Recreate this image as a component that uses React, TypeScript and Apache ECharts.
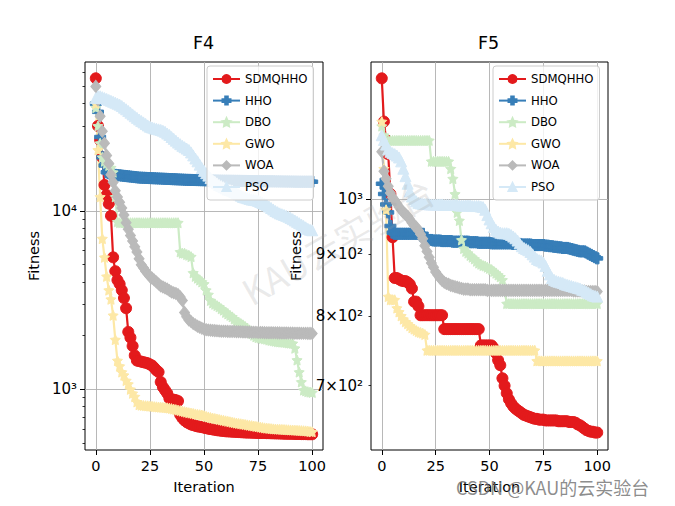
import React, { useEffect, useRef } from 'react';
import * as echarts from 'echarts';

// ---------- data ----------
const ITERATIONS = Array.from({ length: 101 }, (_, i) => i);
const SERIES_NAMES = ['SDMQHHO', 'HHO', 'DBO', 'GWO', 'WOA', 'PSO'];

const F4_SDMQHHO = [
  55500, 30000, 25000, 20000, 14000, 12300, 11000, 9400, 5500, 4600,
  4100, 3900, 3600, 3250, 2850, 2100, 1950, 1750, 1550, 1450,
  1440, 1430, 1420, 1410, 1400, 1380, 1360, 1320, 1280, 1250,
  1100, 1030, 990, 950, 890, 880, 875, 870, 860, 720,
  690, 670, 655, 645, 636, 630, 625, 620, 617, 614,
  610, 606, 602, 599, 596, 593, 590, 588, 586, 584,
  582, 581, 580, 579, 578, 577, 576, 575, 574, 573,
  572, 572, 571, 571, 570, 570, 569, 569, 569, 568,
  568, 567, 567, 566, 566, 565, 565, 564, 564, 563,
  563, 563, 562, 562, 562, 561, 561, 561, 560, 560, 560,
];
const F4_HHO = [
  40000, 36000, 26000, 20000, 18000, 16500, 16300, 16100, 16000,
  15950, 15900, 15850, 15800, 15750, 15700, 15650, 15600, 15550, 15500, 15450, 15400,
  15380, 15360, 15340, 15320, 15300, 15280, 15260, 15240, 15220, 15200, 15180, 15160, 15140, 15120, 15100,
  15080, 15060, 15040, 15020, 15000, 14980, 14960, 14950, 14940, 14930, 14920, 14910, 14900, 14890, 14880,
  14870, 14860, 14850, 14840, 14830, 14820, 14810, 14800, 14795, 14790, 14785, 14780, 14775, 14770, 14765,
  14760, 14755, 14750, 14745, 14740, 14730, 14720, 14715, 14710, 14700,
  14695, 14690, 14685, 14680, 14675, 14670, 14665, 14660, 14655, 14650, 14645, 14640, 14635,
  14630, 14625, 14620, 14615, 14610, 14605, 14600, 14600, 14600, 14600, 14600, 14600,
];
const F4_DBO = [
  38000, 30000, 24000, 20000, 19000, 18500, 18000, 17500, 16500, 12000, 8700,
  8600, 8600, 8600, 8600, 8600, 8600, 8600, 8600, 8600, 8600, 8600, 8600, 8600, 8600,
  8600, 8600, 8600, 8600, 8600, 8600, 8600, 8600, 8600, 8600, 8600, 8600, 8600, 8600,
  5900, 5800, 5800, 5700, 5650, 5550,
  4500, 4300, 4200, 4100, 4000, 3900,
  3600, 3400, 3150, 3050, 3000, 2950, 2900, 2830, 2780, 2700,
  2650, 2600, 2550, 2480, 2420, 2380, 2340, 2300, 2250, 2200,
  2120, 2060, 2010, 1970, 1950, 1940, 1930, 1920, 1910, 1890,
  1880, 1870, 1860, 1850, 1845, 1840, 1835, 1830, 1820, 1815, 1810,
  1700, 1460, 1250, 1100, 990, 980, 970, 965, 960,
];
const F4_GWO = [
  40000, 22000, 12000, 7000, 5500, 4300, 3600, 3200, 2600, 1900,
  1450, 1350, 1250, 1200, 1120, 1070, 1000, 950, 910, 850, 820,
  815, 812, 810, 808, 805, 803, 800, 798, 796, 794, 792, 790,
  788, 785, 780, 775, 770, 765, 760, 755, 750, 745, 740, 736, 732, 728, 724, 721, 718,
  712, 705, 700, 695, 690, 686, 682, 678, 674, 670, 666, 662, 658, 654, 650,
  647, 644, 641, 638, 635, 632, 629, 626, 623, 620, 617, 614, 611, 608, 606,
  604, 602, 600, 599, 598, 597, 596, 595, 594, 593, 592, 591, 590, 589, 588,
  587, 586, 585, 583, 580, 578,
];
const F4_WOA = [
  50000, 42000, 34000, 28000, 24000, 20500, 18500, 16000, 14500, 13000,
  12000, 11200, 10400, 9500, 8600, 7900, 7300, 6800, 6300, 5900,
  5400, 5000, 4800, 4600, 4450, 4300, 4200, 4100, 4000, 3900,
  3800, 3750, 3700, 3650, 3580, 3520, 3480, 3450, 3400, 3300,
  3150, 2700, 2550, 2450, 2400, 2340, 2300, 2260, 2230, 2200,
  2180, 2160, 2150,
  2145, 2140, 2135, 2130, 2125, 2120,
  2118, 2116, 2114, 2112, 2110, 2108, 2106, 2104, 2102, 2100,
  2098, 2096, 2094, 2092, 2090, 2088, 2086, 2084, 2082, 2080,
  2079, 2078, 2077, 2076, 2075, 2074, 2073, 2072, 2071, 2070,
  2069, 2068, 2067, 2066, 2065, 2064, 2063, 2062, 2061, 2060, 2060, 2060,
];
const F4_PSO = [
  43000, 44000, 44000, 43500, 43000, 42500, 42000, 41500, 41000, 40500,
  40000, 39500, 38800, 38000, 37200, 36400, 35600, 34800, 34000, 33300,
  32600, 32000, 31400, 30800, 30200, 29700, 29400, 29100, 28900, 28700,
  28500, 28200, 27800, 27200, 26700, 26000, 25400, 24800, 24200, 23700,
  23200, 22800, 22400, 22000, 21300, 20500, 19700, 19000, 18200, 17400,
  16800, 16300, 15800, 15300, 14900, 14600, 14300, 14000, 13800, 13600,
  13400, 13200, 13100, 13000, 12800, 12600, 12400, 12200, 12000, 11900,
  11800, 11700, 11600, 11550, 11500, 11400, 11250, 11100, 10950, 10800,
  10600, 10400, 10200, 10000, 9850, 9700, 9600, 9500, 9400, 9290,
  9150, 9000, 8850, 8700, 8550, 8400, 8250, 8100, 7950, 7850, 7800,
];

const F5_SDMQHHO = [
  1260, 1160, 1120, 1090, 1010, 930, 860, 860, 858, 856,
  855, 855, 853, 850, 843, 822, 822, 815, 801,
  801, 801, 801, 801, 801, 801, 801, 801, 801, 801,
  780, 780, 780, 780, 780, 780, 780, 780, 780, 780, 780, 780, 780, 780, 780, 780, 780,
  756, 756, 756, 756, 756, 756,
  752, 745, 735, 728, 710, 700, 690, 682, 677, 673,
  670, 668, 666, 664, 662, 661, 660, 659, 658,
  657, 657, 656, 656, 656, 655, 655, 655, 655, 655, 655,
  654, 654, 654, 654, 654, 653, 653, 653, 652,
  650, 649, 647, 645, 643, 642, 641, 641, 640, 640,
];
const F5_HHO = [
  1030, 1010, 990, 975, 950, 938,
  936, 936, 936, 936, 936, 936, 936, 936, 936, 936, 936, 936, 936, 936,
  926, 925, 925, 925, 924, 924, 924, 924, 923, 923, 923, 923, 923, 922, 922, 922, 922, 922, 922, 922, 922,
  921, 921, 921, 921, 920, 920, 920, 920, 920, 920, 919, 919, 919, 919, 919, 919, 919, 919, 919, 919,
  918, 918, 918, 918, 917, 917, 917, 917, 917, 916, 916, 916, 916, 916, 916,
  915, 915, 914, 914, 913, 913, 912, 912, 911, 911, 911,
  910, 909, 908, 907, 906, 905, 905, 905,
  903, 901, 899, 897, 895, 893,
];
const F5_DBO = [
  1150, 1130,
  1119, 1119, 1119, 1119, 1119, 1119, 1119, 1119, 1119, 1119, 1119,
  1119, 1119, 1119, 1119, 1119, 1119, 1119, 1119, 1119, 1119,
  1075, 1075, 1075, 1075, 1075, 1075, 1075, 1075, 1075,
  1060, 1040, 1010, 975, 960, 925, 910, 905, 902, 898,
  895, 892, 888, 885, 883, 881, 880, 878, 876, 874,
  871, 868, 865, 862, 857, 840,
  819, 819, 819, 819, 819, 819, 819, 819, 819, 819, 819, 819, 819, 819, 819,
  819, 819, 819, 819, 819, 819, 819, 819, 819, 819, 819, 819, 819, 819, 819,
  819, 819, 819, 819, 819, 819, 819, 819, 819, 819, 819, 819, 819,
];
const F5_GWO = [
  1160, 1060, 980, 830, 825, 825, 825, 812, 806, 800,
  795, 791, 788, 785, 782, 780, 778, 776, 775, 774, 772,
  749, 749, 749, 749, 749, 749, 749, 749, 749, 749, 749, 749, 749, 749, 749, 749, 749,
  749, 749, 749, 749, 749, 749, 749, 749, 749, 749, 749, 749, 749, 749, 749, 749, 749,
  749, 749, 749, 749, 749, 749, 749, 749, 749, 749, 749, 749, 749, 749, 749, 749, 749,
  734, 734, 734, 734, 734, 734, 734, 734, 734, 734, 734, 734, 734, 734, 734,
  734, 734, 734, 734, 734, 734, 734, 734, 734, 734, 734, 734, 734, 734,
];
const F5_WOA = [
  1095, 1055, 1040, 1025, 1012, 1003, 998, 992, 985, 980,
  975, 972, 968, 962, 956, 951, 948, 942, 935, 927,
  915, 905, 895, 885, 878, 870, 865, 860, 856, 853,
  851, 850, 848, 847, 846, 845, 844, 843, 842,
  842, 842, 841, 841, 841, 841, 841, 841, 841, 841,
  840, 840, 840, 840, 840, 840, 840, 840, 840, 840,
  840, 840, 840, 840, 840, 840, 840, 840, 840, 840,
  840, 840, 840, 840, 840, 840, 840, 840, 840, 840,
  840, 840, 840, 840, 840, 840, 840, 840, 840, 840,
  839, 839, 839, 839, 839, 839, 838, 838, 838, 838, 838, 838,
];
const F5_PSO = [
  1130, 1120, 1110, 1100, 1095, 1092, 1090, 1087, 1083, 1075,
  1060, 1045, 1030, 1015, 1005, 1000, 996, 993, 992,
  991, 991, 991, 990, 990, 990, 990, 990, 990, 990,
  989, 989, 989, 989, 989, 989, 989, 988, 988, 988, 988, 988, 988, 987, 987, 987, 987,
  986, 985, 980, 970, 962, 955, 948, 943, 940, 938,
  937, 937, 937, 936, 934, 931, 928, 924, 919, 914,
  911, 909, 907, 904, 900, 896, 892, 890, 889, 886,
  880, 872, 866, 860, 857, 855, 854, 853, 852, 850,
  849, 848, 847, 846, 845, 844, 843, 841, 840, 838,
  836, 834, 832, 831, 830,
];

const F4_DATA = [F4_SDMQHHO, F4_HHO, F4_DBO, F4_GWO, F4_WOA, F4_PSO];
const F5_DATA = [F5_SDMQHHO, F5_HHO, F5_DBO, F5_GWO, F5_WOA, F5_PSO];

// ---------- axes / ticks ----------
const X_TICKS = [0, 25, 50, 75, 100];
const F4_RANGE = [457, 68500];
const F4_MAJOR_TICKS = [1000, 10000];
const F4_MAJOR_LABELS = ['10³', '10⁴'];
const F4_MINOR_TICKS = [500, 600, 700, 800, 900, 2000, 3000, 4000, 5000, 6000, 7000, 8000, 9000, 20000, 30000, 40000, 50000, 60000];
const F5_RANGE = [619, 1300];
const F5_MAJOR_TICKS = [1000];
const F5_MAJOR_LABELS = ['10³'];
const F5_MINOR_TICKS = [700, 800, 900];
const F5_MINOR_LABELS = ['7×10²', '8×10²', '9×10²'];

// ---------- style ----------
const COLORS = ['#e31a1c', '#377eb8', '#ccebc5', '#fde8a6', '#bababa', '#d5e9f7'];
const PLUS = 'path://M-1.6,-5 L1.6,-5 L1.6,-1.6 L5,-1.6 L5,1.6 L1.6,1.6 L1.6,5 L-1.6,5 L-1.6,1.6 L-5,1.6 L-5,-1.6 L-1.6,-1.6 Z';
const STAR = 'path://M0,-10 L2.9,-4 L9.5,-3.1 L4.7,1.5 L5.9,8.1 L0,5 L-5.9,8.1 L-4.7,1.5 L-9.5,-3.1 L-2.9,-4 Z';
const SYMBOLS = ['circle', PLUS, STAR, STAR, 'diamond', 'triangle'];
const SYMBOL_SIZES = [11, 11, 10, 10, [10, 12], 11];
const FONT = '"DejaVu Sans", sans-serif';

const log10 = (v: number) => Math.log10(v);

function labelFor(ticks: number[], labels: string[]) {
  return (v: number) => {
    const idx = ticks.findIndex((t) => Math.abs(log10(t) - v) < 1e-6);
    return idx >= 0 ? labels[idx] : '';
  };
}

function buildOption() {
  const grids = [
    { left: 85, top: 62, width: 238, height: 388 },
    { left: 371, top: 62, width: 237, height: 388 },
  ];
  const xAxes = grids.map((_, g) => ({
    type: 'value',
    gridIndex: g,
    position: 'bottom',
    min: -5,
    max: 105,
    name: 'Iteration',
    nameLocation: 'middle',
    nameGap: 29,
    nameTextStyle: { fontFamily: FONT, fontSize: 14.5, color: '#000' },
    axisLine: { show: false },
    axisTick: { show: true, length: 5, lineStyle: { color: '#000', width: 1 }, customValues: X_TICKS },
    axisLabel: { fontFamily: FONT, fontSize: 14.5, color: '#000', margin: 8, customValues: X_TICKS },
    splitLine: { show: true, lineStyle: { color: '#b0b0b0', width: 0.9 } },
  }));

  const makeY = (g: number, range: number[], major: number[], majorLabels: string[], minor: number[], minorLabels: string[] | null, nameGap: number, labelSize: number) => [
    { type: 'log', gridIndex: g, position: 'left', min: range[0], max: range[1], show: false },
    {
      type: 'value', gridIndex: g, position: 'left', offset: 0, min: log10(range[0]), max: log10(range[1]),
      name: 'Fitness', nameLocation: 'middle', nameGap,
      nameTextStyle: { fontFamily: FONT, fontSize: 14.5, color: '#000' },
      axisLine: { show: false },
      axisTick: { show: true, length: 5, lineStyle: { color: '#000', width: 1 }, customValues: major.map(log10) },
      axisLabel: { fontFamily: FONT, fontSize: labelSize, color: '#000', margin: 8, customValues: major.map(log10), formatter: labelFor(major, majorLabels) },
      splitLine: { show: true, lineStyle: { color: '#b0b0b0', width: 0.9 } },
    },
    {
      type: 'value', gridIndex: g, position: 'left', offset: 0, min: log10(range[0]), max: log10(range[1]),
      axisLine: { show: false },
      axisTick: { show: true, length: 2.5, lineStyle: { color: '#000', width: 0.8 }, customValues: minor.map(log10) },
      axisLabel: minorLabels
        ? { show: true, fontFamily: FONT, fontSize: labelSize, color: '#000', margin: 8, customValues: minor.map(log10), formatter: labelFor(minor, minorLabels) }
        : { show: false },
      splitLine: { show: false },
    },
  ];
  const yAxes = [
    ...makeY(0, F4_RANGE, F4_MAJOR_TICKS, F4_MAJOR_LABELS, F4_MINOR_TICKS, null, 44, 15),
    ...makeY(1, F5_RANGE, F5_MAJOR_TICKS, F5_MAJOR_LABELS, F5_MINOR_TICKS, F5_MINOR_LABELS, 68, 15),
  ];

  const series: any[] = [];
  [F4_DATA, F5_DATA].forEach((dataset, g) => {
    dataset.forEach((vals, k) => {
      series.push({
        type: 'line',
        name: SERIES_NAMES[k],
        xAxisIndex: g,
        yAxisIndex: g * 3,
        data: ITERATIONS.map((x, i) => [x, vals[i]]),
        symbol: SYMBOLS[k],
        symbolSize: SYMBOL_SIZES[k],
        showAllSymbol: true,
        lineStyle: { color: COLORS[k], width: 2.2 },
        itemStyle: { color: COLORS[k], borderColor: COLORS[k], borderWidth: 1 },
        emphasis: { disabled: true },
        silent: true,
      });
    });
  });

  const legendBase = {
    orient: 'vertical',
    top: 66,
    itemWidth: 27,
    itemHeight: 10,
    itemGap: 9.6,
    padding: [7, 6, 7, 5],
    borderColor: '#cccccc',
    borderWidth: 1,
    borderRadius: 3,
    backgroundColor: 'rgba(255,255,255,0.8)',
    textStyle: { fontFamily: FONT, fontSize: 11.7, color: '#000' },
    data: SERIES_NAMES,
    selectedMode: false,
  };

  return {
    animation: false,
    backgroundColor: '#fff',
    title: [
      { text: 'F4', left: 193, top: 34, padding: 0, textStyle: { fontFamily: FONT, fontSize: 17.5, fontWeight: 'normal', color: '#000' } },
      { text: 'F5', left: 478, top: 34, padding: 0, textStyle: { fontFamily: FONT, fontSize: 17.5, fontWeight: 'normal', color: '#000' } },
    ],
    grid: grids.map((gr) => ({ ...gr, show: true, borderColor: '#000', borderWidth: 1, backgroundColor: 'transparent' })),
    xAxis: xAxes,
    yAxis: yAxes,
    legend: [
      { ...legendBase, left: 207 },
      { ...legendBase, left: 493 },
    ],
    series,
    graphic: [
      {
        type: 'text', x: 337, y: 240, rotation: 0.52, z: 100, silent: true,
        style: { text: 'KAU云实验台', fill: 'rgba(160,160,160,0.22)', font: '36px "Noto Sans CJK SC"', align: 'center', verticalAlign: 'middle' },
      },
      {
        type: 'text', x: 456, y: 487, z: 100, silent: true,
        style: { text: 'CSDN @KAU的云实验台', fill: 'rgba(110,110,110,0.8)', font: '18px "Noto Sans CJK SC"', align: 'left', verticalAlign: 'middle' },
      },
    ],
  };
}

export default function App() {
  const ref = useRef<HTMLDivElement>(null);
  useEffect(() => {
    document.body.style.margin = '0';
    if (!ref.current) return;
    const chart = echarts.init(ref.current, undefined, { renderer: 'svg' });
    chart.setOption(buildOption() as any);
    return () => chart.dispose();
  }, []);
  return <div ref={ref} style={{ width: 675, height: 506 }} />;
}
